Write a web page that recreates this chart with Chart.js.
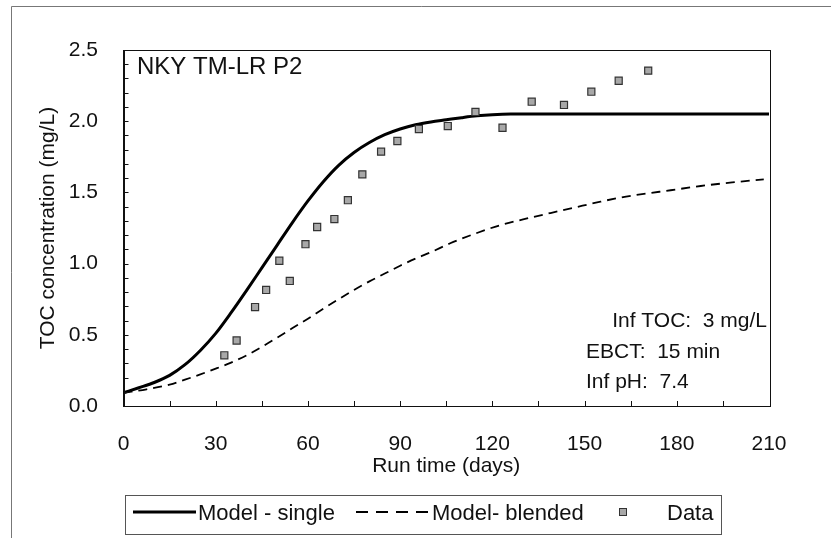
<!DOCTYPE html>
<html><head><meta charset="utf-8">
<script src="https://cdn.jsdelivr.net/npm/chart.js@4.4.0/dist/chart.umd.min.js"></script>
<style>html,body{margin:0;padding:0;background:#fff}canvas{display:block}</style>
</head><body>
<canvas id="c" width="834" height="538"></canvas>
<script>
const FONT = '"Liberation Sans", Arial, sans-serif';

const xTickLabels = ['0','30','60','90','120','150','180','210'];
const yTickLabels = ['0.0','0.5','1.0','1.5','2.0','2.5'];

const singleDays = [0, 5, 10, 15, 20, 25, 30, 35, 40, 45, 50, 55, 60, 65, 70, 75, 80, 85, 90, 95, 100, 105, 110, 115, 120, 126, 150, 180, 210];
const singleToc  = [0.093, 0.128, 0.165, 0.215, 0.29, 0.39, 0.51, 0.655, 0.81, 0.97, 1.13, 1.29, 1.44, 1.575, 1.69, 1.78, 1.85, 1.905, 1.945, 1.975, 1.995, 2.01, 2.025, 2.038, 2.046, 2.05, 2.05, 2.05, 2.05];

const blendedDays = [0, 7.5, 15, 20, 25, 30, 35, 40, 45, 50, 55, 60, 65, 70, 75, 80, 85, 90, 95, 100, 106.3, 115, 122.6, 130, 138.9, 147, 155.2, 162, 169.3, 178, 187.8, 198, 208.3];
const blendedToc  = [0.093, 0.117, 0.15, 0.185, 0.222, 0.262, 0.305, 0.355, 0.415, 0.48, 0.547, 0.613, 0.683, 0.75, 0.815, 0.875, 0.93, 0.985, 1.035, 1.08, 1.143, 1.215, 1.27, 1.31, 1.355, 1.395, 1.435, 1.465, 1.49, 1.515, 1.545, 1.57, 1.592];

const dataDays = [32.8, 36.8, 42.8, 46.4, 50.7, 54.1, 59.2, 63.0, 68.6, 73.0, 77.7, 83.8, 89.1, 96.1, 105.5, 114.5, 123.3, 132.8, 143.3, 152.2, 161.1, 170.7];
const dataToc  = [0.356, 0.46, 0.695, 0.815, 1.02, 0.878, 1.136, 1.257, 1.313, 1.445, 1.627, 1.786, 1.861, 1.945, 1.966, 2.065, 1.954, 2.137, 2.114, 2.207, 2.284, 2.355];

const seriesLabels = ['Model - single', 'Model- blended', 'Data'];
const panelTitle = 'NKY TM-LR P2';
const notes = ['Inf TOC:  3 mg/L', 'EBCT:  15 min', 'Inf pH:  7.4'];

const pts = (xs, ys) => xs.map((x, i) => ({x, y: ys[i]}));

const decor = {
  id: 'decor',
  beforeDraw(chart) {
    const ctx = chart.ctx;
    ctx.save();
    ctx.fillStyle = '#fff';
    ctx.fillRect(0, 0, chart.width, chart.height);
    ctx.strokeStyle = '#777';
    ctx.lineWidth = 1;
    ctx.beginPath();
    ctx.moveTo(11.5, 538); ctx.lineTo(11.5, 6.5); ctx.lineTo(831, 6.5);
    ctx.stroke();
    ctx.restore();
  },
  afterDraw(chart) {
    const ctx = chart.ctx;
    const a = chart.chartArea;
    const xs = chart.scales.x, ys = chart.scales.y;
    ctx.save();
    // plot frame
    ctx.strokeStyle = '#111';
    ctx.lineWidth = 1;
    ctx.strokeRect(Math.round(a.left) + 0.5, Math.round(a.top) + 0.5, Math.round(a.right - a.left), Math.round(a.bottom - a.top));
    // inward ticks
    ctx.beginPath();
    for (let v = 0.1; v < 2.5 - 1e-6; v += 0.1) {
      const y = Math.round(ys.getPixelForValue(v)) + 0.5;
      ctx.moveTo(a.left, y); ctx.lineTo(a.left + 5, y);
    }
    for (let d = 15; d < 210; d += 15) {
      const x = Math.round(xs.getPixelForValue(d)) + 0.5;
      ctx.moveTo(x, a.bottom); ctx.lineTo(x, a.bottom - 5);
    }
    ctx.stroke();
    // panel title
    ctx.fillStyle = '#111';
    ctx.textBaseline = 'alphabetic';
    ctx.font = '24px ' + FONT;
    ctx.textAlign = 'left';
    ctx.fillText(panelTitle, 137, 74);
    // notes
    ctx.font = '21px ' + FONT;
    ctx.textAlign = 'right';
    ctx.fillText(notes[0], 767, 327);
    ctx.textAlign = 'left';
    ctx.fillText(notes[1], 586, 358);
    ctx.fillText(notes[2], 586, 388);
    // legend
    const ds = chart.data.datasets;
    ctx.strokeStyle = '#555';
    ctx.lineWidth = 1;
    ctx.strokeRect(125.5, 495.5, 596, 39);
    const ly = 512;
    ctx.strokeStyle = ds[0].borderColor;
    ctx.lineWidth = ds[0].borderWidth;
    ctx.setLineDash([]);
    ctx.beginPath(); ctx.moveTo(133, ly); ctx.lineTo(196, ly); ctx.stroke();
    ctx.strokeStyle = ds[1].borderColor;
    ctx.lineWidth = ds[1].borderWidth;
    ctx.setLineDash([12, 8]);
    ctx.beginPath(); ctx.moveTo(356, ly); ctx.lineTo(430, ly); ctx.stroke();
    ctx.setLineDash([]);
    ctx.fillStyle = ds[2].backgroundColor;
    ctx.strokeStyle = ds[2].borderColor;
    ctx.lineWidth = 1;
    ctx.fillRect(619.5, ly - 3.5, 7, 7);
    ctx.strokeRect(619.5, ly - 3.5, 7, 7);
    ctx.fillStyle = '#111';
    ctx.font = '22px ' + FONT;
    ctx.textAlign = 'left';
    ctx.fillText(ds[0].label, 198, 520);
    ctx.fillText(ds[1].label, 432, 520);
    ctx.fillText(ds[2].label, 667, 520);
    ctx.restore();
  }
};

new Chart(document.getElementById('c'), {
  type: 'scatter',
  data: {
    datasets: [
      { label: seriesLabels[0], data: pts(singleDays, singleToc), showLine: true,
        borderColor: '#000', borderWidth: 3, pointRadius: 0, cubicInterpolationMode: 'monotone', order: 2 },
      { label: seriesLabels[1], data: pts(blendedDays, blendedToc), showLine: true,
        borderColor: '#000', borderWidth: 1.8, borderDash: [9, 6], pointRadius: 0, cubicInterpolationMode: 'monotone', order: 3 },
      { label: seriesLabels[2], data: pts(dataDays, dataToc), showLine: false,
        pointStyle: 'rect', pointRadius: 5, pointHoverRadius: 5,
        backgroundColor: '#a8a8a8', borderColor: '#333', borderWidth: 1.2, order: 1 }
    ]
  },
  options: {
    responsive: false,
    animation: false,
    events: [],
    layout: { padding: { top: 50, right: 65, bottom: 52, left: 0 } },
    plugins: { legend: { display: false }, title: { display: false }, tooltip: { enabled: false } },
    scales: {
      x: {
        type: 'linear', min: 0, max: 210,
        afterBuildTicks: s => { s.ticks = xTickLabels.map(t => ({ value: Number(t) })); },
        ticks: { callback: (v, i) => xTickLabels[i], font: { family: FONT, size: 21 }, color: '#111', padding: 18, maxRotation: 0, autoSkip: false },
        grid: { display: false },
        border: { display: true, color: '#111', width: 1 },
        title: { display: true, text: 'Run time (days)', font: { family: FONT, size: 21 }, color: '#111', padding: { top: 0, bottom: 7 } },
        afterFit: s => { s.height = 80; }
      },
      y: {
        type: 'linear', min: 0, max: 2.5,
        afterBuildTicks: s => { s.ticks = yTickLabels.map(t => ({ value: Number(t) })); },
        ticks: { callback: (v, i) => yTickLabels[i], font: { family: FONT, size: 21 }, color: '#111', padding: 17.5, autoSkip: false },
        grid: { display: false },
        border: { display: true, color: '#111', width: 1 },
        title: { display: true, text: 'TOC concentration (mg/L)', font: { family: FONT, size: 21 }, color: '#111', padding: { top: 36, bottom: 0 } },
        afterFit: s => { s.width = 123.5; }
      }
    }
  },
  plugins: [decor]
});
</script>
</body></html>
